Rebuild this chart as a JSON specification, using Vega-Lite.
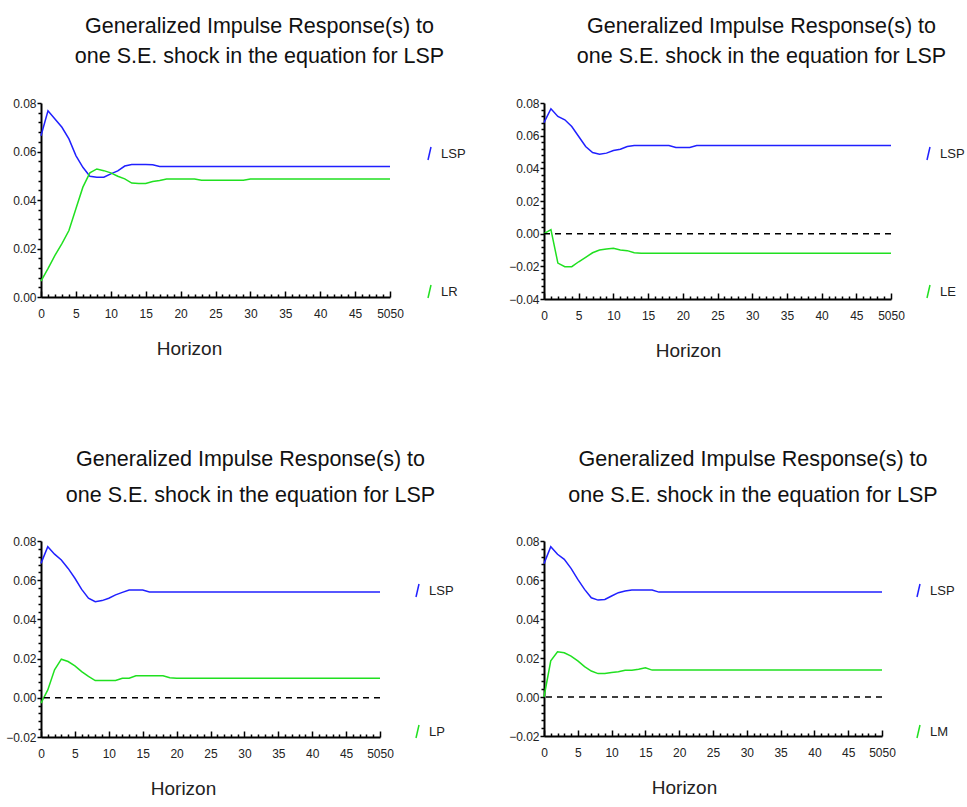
{
  "$schema": "https://vega.github.io/schema/vega-lite/v6.json",
  "background": "white",
  "padding": {"left": 5, "top": 15, "right": 0, "bottom": 0},
  "config": {
    "view": {"stroke": null},
    "font": "Liberation Sans",
    "title": {"font": "Liberation Sans", "fontSize": 21.5, "fontWeight": "normal", "lineHeight": 30, "color": "#111111", "anchor": "middle", "frame": "group", "dx": 44, "offset": 30},
    "axis": {"labelFont": "Liberation Sans", "labelFontSize": 12, "labelColor": "#222222", "domainColor": "black", "domainWidth": 2, "tickColor": "black", "tickWidth": 1.5, "grid": false, "labelOverlap": false, "labelFlush": false, "titleFont": "Liberation Sans", "titleFontSize": 19, "titleFontWeight": "normal", "titleColor": "#222222"},
    "legend": {"orient": "none", "title": null, "symbolType": "M-0.23,1L0.23,-1", "symbolStrokeWidth": 1.5, "symbolSize": 169, "rowPadding": 119, "labelFont": "Liberation Sans", "labelFontSize": 13, "labelColor": "#222222", "labelOffset": 4}
  },
  "datasets": {
    "p1": [
      {"h": 0, "LSP": 0.0665, "LR": 0.0065}, {"h": 1, "LSP": 0.0768, "LR": 0.0117}, {"h": 2, "LSP": 0.0734, "LR": 0.0172},
      {"h": 3, "LSP": 0.0700, "LR": 0.0220}, {"h": 4, "LSP": 0.0652, "LR": 0.0274}, {"h": 5, "LSP": 0.0583, "LR": 0.0364},
      {"h": 6, "LSP": 0.0535, "LR": 0.0453}, {"h": 7, "LSP": 0.0498, "LR": 0.0512}, {"h": 8, "LSP": 0.0494, "LR": 0.0528},
      {"h": 9, "LSP": 0.0494, "LR": 0.0521}, {"h": 10, "LSP": 0.0508, "LR": 0.0512}, {"h": 11, "LSP": 0.0520, "LR": 0.0498},
      {"h": 12, "LSP": 0.0540, "LR": 0.0487}, {"h": 13, "LSP": 0.0546, "LR": 0.0470}, {"h": 14, "LSP": 0.0546, "LR": 0.0468},
      {"h": 15, "LSP": 0.0546, "LR": 0.0468}, {"h": 16, "LSP": 0.0545, "LR": 0.0476}, {"h": 17, "LSP": 0.0538, "LR": 0.0480},
      {"h": 18, "LSP": 0.0538, "LR": 0.0487}, {"h": 19, "LSP": 0.0538, "LR": 0.0487}, {"h": 20, "LSP": 0.0538, "LR": 0.0487},
      {"h": 22, "LSP": 0.0538, "LR": 0.0487}, {"h": 23, "LSP": 0.0538, "LR": 0.0481}, {"h": 25, "LSP": 0.0538, "LR": 0.0481},
      {"h": 29, "LSP": 0.0538, "LR": 0.0481}, {"h": 30, "LSP": 0.0538, "LR": 0.0487}, {"h": 35, "LSP": 0.0538, "LR": 0.0487},
      {"h": 40, "LSP": 0.0538, "LR": 0.0487}, {"h": 45, "LSP": 0.0538, "LR": 0.0487}, {"h": 50, "LSP": 0.0538, "LR": 0.0487}
    ],
    "p2": [
      {"h": 0, "LSP": 0.0680, "LE": 0.0000}, {"h": 1, "LSP": 0.0765, "LE": 0.0025}, {"h": 2, "LSP": 0.0718, "LE": -0.0180},
      {"h": 3, "LSP": 0.0697, "LE": -0.0202}, {"h": 4, "LSP": 0.0656, "LE": -0.0202}, {"h": 5, "LSP": 0.0595, "LE": -0.0172},
      {"h": 6, "LSP": 0.0534, "LE": -0.0145}, {"h": 7, "LSP": 0.0497, "LE": -0.0117}, {"h": 8, "LSP": 0.0487, "LE": -0.0100},
      {"h": 9, "LSP": 0.0493, "LE": -0.0094}, {"h": 10, "LSP": 0.0509, "LE": -0.0090}, {"h": 11, "LSP": 0.0517, "LE": -0.0100},
      {"h": 12, "LSP": 0.0534, "LE": -0.0104}, {"h": 13, "LSP": 0.0540, "LE": -0.0117}, {"h": 14, "LSP": 0.0540, "LE": -0.0120},
      {"h": 15, "LSP": 0.0540, "LE": -0.0120}, {"h": 16, "LSP": 0.0540, "LE": -0.0120}, {"h": 17, "LSP": 0.0540, "LE": -0.0120},
      {"h": 18, "LSP": 0.0540, "LE": -0.0120}, {"h": 19, "LSP": 0.0527, "LE": -0.0120}, {"h": 20, "LSP": 0.0527, "LE": -0.0120},
      {"h": 21, "LSP": 0.0527, "LE": -0.0120}, {"h": 22, "LSP": 0.0540, "LE": -0.0120}, {"h": 25, "LSP": 0.0540, "LE": -0.0120},
      {"h": 30, "LSP": 0.0540, "LE": -0.0120}, {"h": 35, "LSP": 0.0540, "LE": -0.0120}, {"h": 40, "LSP": 0.0540, "LE": -0.0120},
      {"h": 45, "LSP": 0.0540, "LE": -0.0120}, {"h": 50, "LSP": 0.0540, "LE": -0.0120}
    ],
    "p3": [
      {"h": 0, "LSP": 0.0686, "LP": -0.0027}, {"h": 1, "LSP": 0.0771, "LP": 0.0040}, {"h": 2, "LSP": 0.0733, "LP": 0.0143},
      {"h": 3, "LSP": 0.0703, "LP": 0.0197}, {"h": 4, "LSP": 0.0660, "LP": 0.0185}, {"h": 5, "LSP": 0.0610, "LP": 0.0163},
      {"h": 6, "LSP": 0.0553, "LP": 0.0134}, {"h": 7, "LSP": 0.0508, "LP": 0.0109}, {"h": 8, "LSP": 0.0490, "LP": 0.0088},
      {"h": 9, "LSP": 0.0496, "LP": 0.0088}, {"h": 10, "LSP": 0.0508, "LP": 0.0088}, {"h": 11, "LSP": 0.0525, "LP": 0.0088},
      {"h": 12, "LSP": 0.0538, "LP": 0.0100}, {"h": 13, "LSP": 0.0550, "LP": 0.0100}, {"h": 14, "LSP": 0.0550, "LP": 0.0112},
      {"h": 15, "LSP": 0.0550, "LP": 0.0112}, {"h": 16, "LSP": 0.0540, "LP": 0.0112}, {"h": 17, "LSP": 0.0540, "LP": 0.0112},
      {"h": 18, "LSP": 0.0540, "LP": 0.0112}, {"h": 19, "LSP": 0.0540, "LP": 0.0102}, {"h": 20, "LSP": 0.0540, "LP": 0.0100},
      {"h": 25, "LSP": 0.0540, "LP": 0.0100}, {"h": 30, "LSP": 0.0540, "LP": 0.0100}, {"h": 35, "LSP": 0.0540, "LP": 0.0100},
      {"h": 40, "LSP": 0.0540, "LP": 0.0100}, {"h": 45, "LSP": 0.0540, "LP": 0.0100}, {"h": 50, "LSP": 0.0540, "LP": 0.0100}
    ],
    "p4": [
      {"h": 0, "LSP": 0.0684, "LM": 0.0000}, {"h": 1, "LSP": 0.0771, "LM": 0.0185}, {"h": 2, "LSP": 0.0732, "LM": 0.0232},
      {"h": 3, "LSP": 0.0706, "LM": 0.0227}, {"h": 4, "LSP": 0.0660, "LM": 0.0210}, {"h": 5, "LSP": 0.0603, "LM": 0.0185},
      {"h": 6, "LSP": 0.0552, "LM": 0.0156}, {"h": 7, "LSP": 0.0509, "LM": 0.0133}, {"h": 8, "LSP": 0.0497, "LM": 0.0120},
      {"h": 9, "LSP": 0.0500, "LM": 0.0120}, {"h": 10, "LSP": 0.0518, "LM": 0.0126}, {"h": 11, "LSP": 0.0535, "LM": 0.0130},
      {"h": 12, "LSP": 0.0544, "LM": 0.0137}, {"h": 13, "LSP": 0.0549, "LM": 0.0137}, {"h": 14, "LSP": 0.0549, "LM": 0.0142},
      {"h": 15, "LSP": 0.0549, "LM": 0.0150}, {"h": 16, "LSP": 0.0549, "LM": 0.0138}, {"h": 17, "LSP": 0.0538, "LM": 0.0138},
      {"h": 18, "LSP": 0.0538, "LM": 0.0138}, {"h": 19, "LSP": 0.0538, "LM": 0.0138}, {"h": 20, "LSP": 0.0538, "LM": 0.0138},
      {"h": 25, "LSP": 0.0538, "LM": 0.0138}, {"h": 30, "LSP": 0.0538, "LM": 0.0138}, {"h": 35, "LSP": 0.0538, "LM": 0.0138},
      {"h": 40, "LSP": 0.0538, "LM": 0.0138}, {"h": 45, "LSP": 0.0538, "LM": 0.0138}, {"h": 50, "LSP": 0.0538, "LM": 0.0138}
    ]
  },
  "columns": 2,
  "spacing": {"column": 42, "row": 88},
  "resolve": {"scale": {"color": "independent", "x": "independent", "y": "independent"}, "legend": {"color": "independent"}},
  "concat": [
    {
      "width": 349, "height": 194,
      "title": {"text": ["Generalized Impulse Response(s) to", "one S.E. shock in the equation for LSP"]},
      "layer": [
        {
          "data": {"name": "p1"},
          "transform": [{"fold": ["LSP", "LR"], "as": ["series", "value"]}],
          "mark": {"type": "line", "strokeWidth": 1.5},
          "encoding": {
            "x": {"field": "h", "type": "quantitative", "title": "Horizon", "scale": {"domain": [0, 50], "nice": false},
              "axis": {"values": [0,1,2,3,4,5,6,7,8,9,10,11,12,13,14,15,16,17,18,19,20,21,22,23,24,25,26,27,28,29,30,31,32,33,34,35,36,37,38,39,40,41,42,43,44,45,46,47,48,49,50],
                "labelExpr": "datum.value == 50 ? '5050' : (datum.value % 5 == 0 ? datum.label : '')",
                "tickSize": {"condition": {"test": "datum.value % 5 == 0", "value": -6}, "value": -3},
                "labelPadding": 17, "titleX": 148, "titleY": 42}},
            "y": {"field": "value", "type": "quantitative", "title": null, "scale": {"domain": [0, 0.08], "nice": false, "zero": false},
              "axis": {"values": [0,0.004,0.008,0.012,0.016,0.02,0.024,0.028,0.032,0.036,0.04,0.044,0.048,0.052,0.056,0.06,0.064,0.068,0.072,0.076,0.08],
                "format": ".2f",
                "labelExpr": "abs(datum.value*50 - round(datum.value*50)) < 1e-6 ? datum.label : ''",
                "tickSize": {"condition": {"test": "abs(datum.value*50 - round(datum.value*50)) < 1e-6", "value": 4}, "value": 3},
                "labelPadding": 1}},
            "color": {"field": "series", "type": "nominal", "scale": {"domain": ["LSP", "LR"], "range": ["#2020ff", "#20e020"]},
              "legend": {"legendX": 381, "legendY": 43}}
          }
        }
      ]
    },
    {
      "width": 347, "height": 196,
      "title": {"text": ["Generalized Impulse Response(s) to", "one S.E. shock in the equation for LSP"]},
      "layer": [
        {
          "data": {"name": "p2"},
          "transform": [{"fold": ["LSP", "LE"], "as": ["series", "value"]}],
          "mark": {"type": "line", "strokeWidth": 1.5},
          "encoding": {
            "x": {"field": "h", "type": "quantitative", "title": "Horizon", "scale": {"domain": [0, 50], "nice": false},
              "axis": {"values": [0,1,2,3,4,5,6,7,8,9,10,11,12,13,14,15,16,17,18,19,20,21,22,23,24,25,26,27,28,29,30,31,32,33,34,35,36,37,38,39,40,41,42,43,44,45,46,47,48,49,50],
                "labelExpr": "datum.value == 50 ? '5050' : (datum.value % 5 == 0 ? datum.label : '')",
                "tickSize": {"condition": {"test": "datum.value % 5 == 0", "value": -6}, "value": -3},
                "labelPadding": 17, "titleX": 144, "titleY": 42}},
            "y": {"field": "value", "type": "quantitative", "title": null, "scale": {"domain": [-0.04, 0.08], "nice": false, "zero": false},
              "axis": {"values": [-0.04,-0.036,-0.032,-0.028,-0.024,-0.02,-0.016,-0.012,-0.008,-0.004,0,0.004,0.008,0.012,0.016,0.02,0.024,0.028,0.032,0.036,0.04,0.044,0.048,0.052,0.056,0.06,0.064,0.068,0.072,0.076,0.08],
                "format": ".2f",
                "labelExpr": "abs(datum.value*50 - round(datum.value*50)) < 1e-6 ? datum.label : ''",
                "tickSize": {"condition": {"test": "abs(datum.value*50 - round(datum.value*50)) < 1e-6", "value": 4}, "value": 3},
                "labelPadding": 1}},
            "color": {"field": "series", "type": "nominal", "scale": {"domain": ["LSP", "LE"], "range": ["#2020ff", "#20e020"]},
              "legend": {"legendX": 377, "legendY": 43}}
          }
        },
        {
          "data": {"values": [{}]},
          "mark": {"type": "rule", "color": "black", "strokeWidth": 1.5, "strokeDash": [6, 5]},
          "encoding": {"y": {"datum": 0, "type": "quantitative",
            "axis": {"values": [-0.04,-0.036,-0.032,-0.028,-0.024,-0.02,-0.016,-0.012,-0.008,-0.004,0,0.004,0.008,0.012,0.016,0.02,0.024,0.028,0.032,0.036,0.04,0.044,0.048,0.052,0.056,0.06,0.064,0.068,0.072,0.076,0.08],
                "format": ".2f",
                "labelExpr": "abs(datum.value*50 - round(datum.value*50)) < 1e-6 ? datum.label : ''",
                "tickSize": {"condition": {"test": "abs(datum.value*50 - round(datum.value*50)) < 1e-6", "value": 4}, "value": 3},
                "labelPadding": 1}}}
        }
      ]
    },
    {
      "width": 339, "height": 196,
      "title": {"text": ["Generalized Impulse Response(s) to", "one S.E. shock in the equation for LSP"], "lineHeight": 36, "offset": 29, "dx": 40},
      "layer": [
        {
          "data": {"name": "p3"},
          "transform": [{"fold": ["LSP", "LP"], "as": ["series", "value"]}],
          "mark": {"type": "line", "strokeWidth": 1.5},
          "encoding": {
            "x": {"field": "h", "type": "quantitative", "title": "Horizon", "scale": {"domain": [0, 50], "nice": false},
              "axis": {"values": [0,1,2,3,4,5,6,7,8,9,10,11,12,13,14,15,16,17,18,19,20,21,22,23,24,25,26,27,28,29,30,31,32,33,34,35,36,37,38,39,40,41,42,43,44,45,46,47,48,49,50],
                "labelExpr": "datum.value == 50 ? '5050' : (datum.value % 5 == 0 ? datum.label : '')",
                "tickSize": {"condition": {"test": "datum.value % 5 == 0", "value": -6}, "value": -3},
                "labelPadding": 17, "titleX": 142, "titleY": 42}},
            "y": {"field": "value", "type": "quantitative", "title": null, "scale": {"domain": [-0.02, 0.08], "nice": false, "zero": false},
              "axis": {"values": [-0.02,-0.016,-0.012,-0.008,-0.004,0,0.004,0.008,0.012,0.016,0.02,0.024,0.028,0.032,0.036,0.04,0.044,0.048,0.052,0.056,0.06,0.064,0.068,0.072,0.076,0.08],
                "format": ".2f",
                "labelExpr": "abs(datum.value*50 - round(datum.value*50)) < 1e-6 ? datum.label : ''",
                "tickSize": {"condition": {"test": "abs(datum.value*50 - round(datum.value*50)) < 1e-6", "value": 4}, "value": 3},
                "labelPadding": 1}},
            "color": {"field": "series", "type": "nominal", "scale": {"domain": ["LSP", "LP"], "range": ["#2020ff", "#20e020"]},
              "legend": {"legendX": 369, "legendY": 42, "rowPadding": 122}}
          }
        },
        {
          "data": {"values": [{}]},
          "mark": {"type": "rule", "color": "black", "strokeWidth": 1.5, "strokeDash": [6, 5]},
          "encoding": {"y": {"datum": 0, "type": "quantitative",
            "axis": {"values": [-0.02,-0.016,-0.012,-0.008,-0.004,0,0.004,0.008,0.012,0.016,0.02,0.024,0.028,0.032,0.036,0.04,0.044,0.048,0.052,0.056,0.06,0.064,0.068,0.072,0.076,0.08],
                "format": ".2f",
                "labelExpr": "abs(datum.value*50 - round(datum.value*50)) < 1e-6 ? datum.label : ''",
                "tickSize": {"condition": {"test": "abs(datum.value*50 - round(datum.value*50)) < 1e-6", "value": 4}, "value": 3},
                "labelPadding": 1}}}
        }
      ]
    },
    {
      "width": 338, "height": 195,
      "title": {"text": ["Generalized Impulse Response(s) to", "one S.E. shock in the equation for LSP"], "lineHeight": 36, "offset": 29, "dx": 40},
      "layer": [
        {
          "data": {"name": "p4"},
          "transform": [{"fold": ["LSP", "LM"], "as": ["series", "value"]}],
          "mark": {"type": "line", "strokeWidth": 1.5},
          "encoding": {
            "x": {"field": "h", "type": "quantitative", "title": "Horizon", "scale": {"domain": [0, 50], "nice": false},
              "axis": {"values": [0,1,2,3,4,5,6,7,8,9,10,11,12,13,14,15,16,17,18,19,20,21,22,23,24,25,26,27,28,29,30,31,32,33,34,35,36,37,38,39,40,41,42,43,44,45,46,47,48,49,50],
                "labelExpr": "datum.value == 50 ? '5050' : (datum.value % 5 == 0 ? datum.label : '')",
                "tickSize": {"condition": {"test": "datum.value % 5 == 0", "value": -6}, "value": -3},
                "labelPadding": 17, "titleX": 140, "titleY": 42}},
            "y": {"field": "value", "type": "quantitative", "title": null, "scale": {"domain": [-0.02, 0.08], "nice": false, "zero": false},
              "axis": {"values": [-0.02,-0.016,-0.012,-0.008,-0.004,0,0.004,0.008,0.012,0.016,0.02,0.024,0.028,0.032,0.036,0.04,0.044,0.048,0.052,0.056,0.06,0.064,0.068,0.072,0.076,0.08],
                "format": ".2f",
                "labelExpr": "abs(datum.value*50 - round(datum.value*50)) < 1e-6 ? datum.label : ''",
                "tickSize": {"condition": {"test": "abs(datum.value*50 - round(datum.value*50)) < 1e-6", "value": 4}, "value": 3},
                "labelPadding": 1}},
            "color": {"field": "series", "type": "nominal", "scale": {"domain": ["LSP", "LM"], "range": ["#2020ff", "#20e020"]},
              "legend": {"legendX": 367, "legendY": 42, "rowPadding": 122}}
          }
        },
        {
          "data": {"values": [{}]},
          "mark": {"type": "rule", "color": "black", "strokeWidth": 1.5, "strokeDash": [6, 5]},
          "encoding": {"y": {"datum": 0, "type": "quantitative",
            "axis": {"values": [-0.02,-0.016,-0.012,-0.008,-0.004,0,0.004,0.008,0.012,0.016,0.02,0.024,0.028,0.032,0.036,0.04,0.044,0.048,0.052,0.056,0.06,0.064,0.068,0.072,0.076,0.08],
                "format": ".2f",
                "labelExpr": "abs(datum.value*50 - round(datum.value*50)) < 1e-6 ? datum.label : ''",
                "tickSize": {"condition": {"test": "abs(datum.value*50 - round(datum.value*50)) < 1e-6", "value": 4}, "value": 3},
                "labelPadding": 1}}}
        }
      ]
    }
  ]
}
